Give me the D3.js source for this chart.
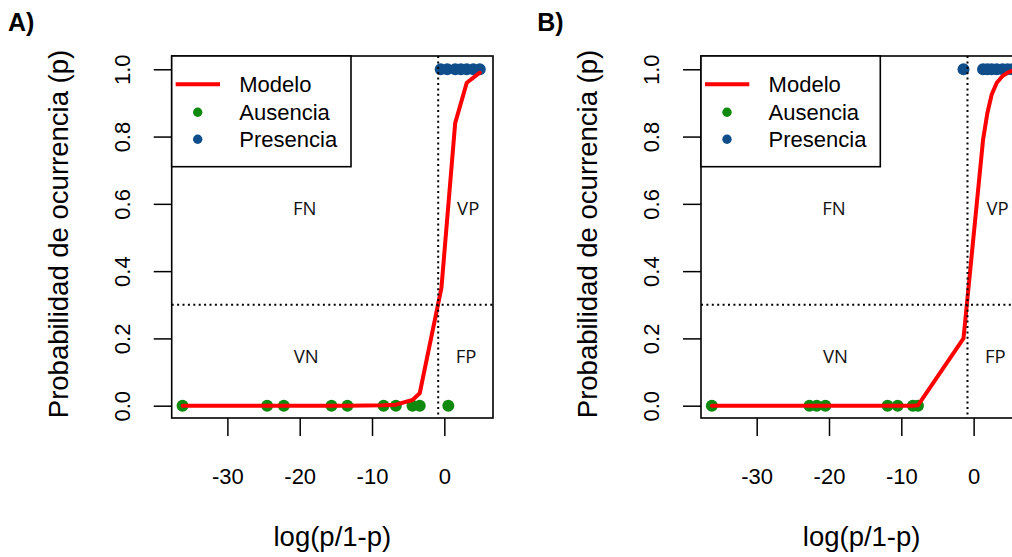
<!DOCTYPE html>
<html><head><meta charset="utf-8">
<script src="https://cdn.jsdelivr.net/npm/d3@7"></script>
<style>html,body{margin:0;padding:0;background:#fff;overflow:hidden}</style>
</head><body>
<svg id="chart" width="1012" height="557"></svg>
<script>
// ---- data ----
const xTicks = [-30, -20, -10, 0];
const yTicks = [0, 0.2, 0.4, 0.6, 0.8, 1.0];
const xLimits = [-37.7, 6.73];
const yLimits = [-0.0366, 1.0395];
const threshold = 0.3;
const cutoffLogit = -0.85;
const panelLabels = ["A)", "B)"];
const legendLabels = ["Modelo", "Ausencia", "Presencia"];
const quadrantLabels = ["FN", "VP", "VN", "FP"];
const quadrantX = [-19.3, 3.3, -19.1, 3.0];
const quadrantP = [0.585, 0.585, 0.146, 0.146];

// Panel A
const absenceA = [-36.2, -24.5, -22.2, -15.6, -13.4, -8.4, -6.7, -4.4, -3.4, 0.55];
const presenceA = [-0.5, 0.4, 1.5, 2.3, 3.1, 4.0, 4.9];
const modelXA = [-36.2, -24.5, -22.2, -15.6, -13.4, -8.4, -6.7, -4.4, -3.4, -0.4, 1.5, 3.1, 4.9];
const modelPA = [0, 0, 0, 0, 0, 0.001, 0.003, 0.017, 0.037, 0.35, 0.84, 0.96, 0.99];

// Panel B
const absenceB = [-36.2, -22.7, -21.7, -20.5, -11.9, -10.5, -8.4, -7.7];
const presenceB = [-1.4, 1.3, 1.9, 2.5, 3.2, 4.0, 4.7, 5.4];
const modelXB = [-36.2, -22.7, -21.7, -20.5, -11.9, -10.5, -8.4, -7.7, -1.4, 1.3, 1.9, 2.5, 3.2, 4.0, 4.7, 5.4];
const modelPB = [0, 0, 0, 0, 0, 0, 0, 0.001, 0.20, 0.79, 0.87, 0.925, 0.96, 0.98, 0.99, 0.996];

// ---- style / layout ----
const RED = "#FF0000", GREEN = "#0F8A0F", BLUE = "#104E8B";
const FONT = "'Liberation Sans', Arial, sans-serif";
const box = {left: 171.7, right: 493, top: 56, bottom: 418};
const panelOffset = 529.3;

const svg = d3.select("#chart");

const x = d3.scaleLinear().domain(xLimits).range([box.left, box.right]);
const y = d3.scaleLinear().domain(yLimits).range([box.bottom, box.top]);

function drawPanel(idx, absence, presence, modelX, modelP) {
  const g = svg.append("g").attr("transform", `translate(${idx * panelOffset},0)`);

  // panel label
  g.append("text").attr("x", 8).attr("y", 31)
    .attr("font-family", FONT).attr("font-weight", "bold").attr("font-size", 25)
    .attr("fill", "#000").text(panelLabels[idx]);

  // x axis
  const xa = g.append("g").attr("transform", `translate(0,${box.bottom})`)
    .call(d3.axisBottom(x).tickValues(xTicks).tickSize(18).tickFormat(d => String(d)));
  xa.select(".domain").remove();
  xa.selectAll(".tick line").attr("stroke", "#000").attr("stroke-width", 1.5);
  xa.selectAll(".tick text").attr("y", 66.3).attr("dy", null)
    .attr("font-family", FONT).attr("font-size", 22).attr("fill", "#000");

  // y axis
  const ya = g.append("g").attr("transform", `translate(${box.left},0)`)
    .call(d3.axisLeft(y).tickValues(yTicks).tickSize(18).tickFormat(d3.format(".1f")));
  ya.select(".domain").remove();
  ya.selectAll(".tick line").attr("stroke", "#000").attr("stroke-width", 1.5);
  ya.selectAll(".tick text")
    .attr("x", null).attr("dy", null).attr("y", null)
    .attr("transform", `translate(${130 - box.left},0) rotate(-90)`)
    .attr("text-anchor", "middle")
    .attr("font-family", FONT).attr("font-size", 22).attr("fill", "#000");

  // axis titles
  g.append("text")
    .attr("x", (box.left + box.right) / 2).attr("y", 545.5)
    .attr("text-anchor", "middle").attr("font-family", FONT).attr("font-size", 27.5)
    .attr("fill", "#000").text("log(p/1-p)");
  g.append("text")
    .attr("transform", `translate(68,${(box.top + box.bottom) / 2 - 3}) rotate(-90)`)
    .attr("text-anchor", "middle").attr("font-family", FONT).attr("font-size", 27.5)
    .attr("fill", "#000").text("Probabilidad de ocurrencia (p)");

  // points
  g.append("g").selectAll("circle.abs").data(absence).join("circle")
    .attr("cx", d => x(d)).attr("cy", y(0)).attr("r", 6).attr("fill", GREEN);
  g.append("g").selectAll("circle.pre").data(presence).join("circle")
    .attr("cx", d => x(d)).attr("cy", y(1)).attr("r", 6).attr("fill", BLUE);

  // model line
  const pts = modelX.map((d, i) => [d, modelP[i]]);
  g.append("path").datum(pts)
    .attr("d", d3.line().x(d => x(d[0])).y(d => y(d[1])))
    .attr("fill", "none").attr("stroke", RED).attr("stroke-width", 4)
    .attr("stroke-linejoin", "round").attr("stroke-linecap", "round");

  // threshold lines
  g.append("line").attr("x1", box.left).attr("x2", box.right)
    .attr("y1", y(threshold)).attr("y2", y(threshold))
    .attr("stroke", "#000").attr("stroke-width", 2).attr("stroke-dasharray", "2,3.4");
  g.append("line").attr("x1", x(cutoffLogit)).attr("x2", x(cutoffLogit))
    .attr("y1", box.top).attr("y2", box.bottom)
    .attr("stroke", "#000").attr("stroke-width", 2).attr("stroke-dasharray", "2,3.4");

  // quadrant labels
  g.append("g").selectAll("text").data(quadrantLabels).join("text")
    .attr("x", (d, i) => x(quadrantX[i])).attr("y", (d, i) => y(quadrantP[i]) + 6.5)
    .attr("text-anchor", "middle").attr("font-family", "'Open Sans', sans-serif")
    .attr("font-size", 18.5).attr("fill", "#111").text(d => d);

  // plot box
  g.append("rect").attr("x", box.left).attr("y", box.top)
    .attr("width", box.right - box.left).attr("height", box.bottom - box.top)
    .attr("fill", "none").attr("stroke", "#000").attr("stroke-width", 1.6);

  // legend
  const lg = g.append("g");
  lg.append("rect").attr("x", box.left).attr("y", box.top)
    .attr("width", 351 - box.left).attr("height", 166.7 - box.top)
    .attr("fill", "#fff").attr("stroke", "#000").attr("stroke-width", 1.6);
  const rowY = [84.3, 112.3, 139.3];
  lg.append("line").attr("x1", 175.7).attr("x2", 220).attr("y1", rowY[0]).attr("y2", rowY[0])
    .attr("stroke", RED).attr("stroke-width", 4);
  lg.append("circle").attr("cx", 197.7).attr("cy", rowY[1]).attr("r", 4.7).attr("fill", GREEN);
  lg.append("circle").attr("cx", 197.7).attr("cy", rowY[2]).attr("r", 4.7).attr("fill", BLUE);
  lg.selectAll("text.lab").data(legendLabels).join("text")
    .attr("x", 239.3).attr("y", (d, i) => rowY[i] + 8)
    .attr("font-family", FONT).attr("font-size", 22).attr("fill", "#000").text(d => d);
}

drawPanel(0, absenceA, presenceA, modelXA, modelPA);
drawPanel(1, absenceB, presenceB, modelXB, modelPB);
</script>
</body></html>
